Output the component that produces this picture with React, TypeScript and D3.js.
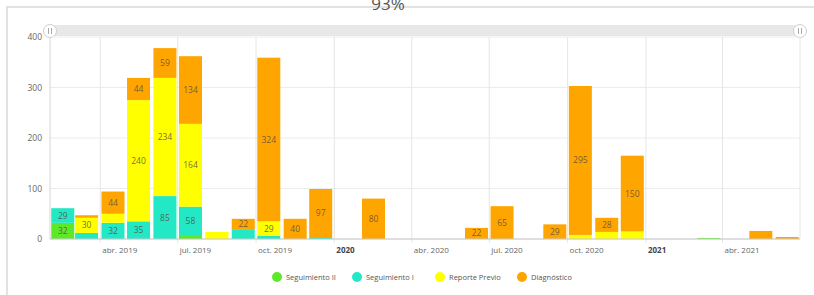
import React from "react"
import * as d3 from "d3"

// months from feb 2019 to jun 2021
const months = [
    "2019-02", "2019-03", "2019-04", "2019-05", "2019-06", "2019-07", "2019-08", "2019-09", "2019-10", "2019-11", "2019-12",
    "2020-01", "2020-02", "2020-03", "2020-04", "2020-05", "2020-06", "2020-07", "2020-08", "2020-09", "2020-10", "2020-11", "2020-12",
    "2021-01", "2021-02", "2021-03", "2021-04", "2021-05", "2021-06",
]
const seguimientoII = [32, 0, 0, 0, 0, 6, 0, 0, 0, 0, 0, 0, 0, 0, 0, 0, 0, 0, 0, 0, 0, 0, 0, 0, 0, 2, 0, 0, 0]
const seguimientoI = [29, 12, 32, 35, 85, 58, 0, 18, 6, 0, 2, 0, 0, 0, 0, 0, 0, 0, 0, 0, 0, 0, 0, 0, 0, 0, 0, 0, 0]
const reportePrevio = [0, 30, 18, 240, 234, 164, 14, 0, 29, 0, 0, 0, 0, 0, 0, 0, 0, 0, 0, 0, 8, 14, 15, 0, 0, 0, 0, 0, 0]
const diagnostico = [0, 5, 44, 44, 59, 134, 0, 22, 324, 40, 97, 0, 80, 0, 0, 0, 22, 65, 0, 29, 295, 28, 150, 0, 0, 0, 0, 16, 4]

const seriesNames = ["Seguimiento II", "Seguimiento I", "Reporte Previo", "Diagnóstico"]
const seriesColors = ["#5ee82a", "#22e8c6", "#ffff00", "#ffa500"]

const tickDates = ["2019-04", "2019-07", "2019-10", "2020-01", "2020-04", "2020-07", "2020-10", "2021-01", "2021-04"]
const tickLabels = ["abr. 2019", "jul. 2019", "oct. 2019", "2020", "abr. 2020", "jul. 2020", "oct. 2020", "2021", "abr. 2021"]
const yTicks = [0, 100, 200, 300, 400]

const W = 814
const H = 295
const margin = {top: 37, bottom: 56, left: 50, right: 14}
const font = "'Open Sans', sans-serif"

const parseMonth = d3.timeParse("%Y-%m")

const App = () => {
    const xScale = d3.scaleTime()
        .domain([new Date(2019, 1, 1), new Date(2021, 6, 1)])
        .range([margin.left, W - margin.right])
    const yScale = d3.scaleLinear()
        .domain([0, 400])
        .range([H - margin.bottom, margin.top])

    const rows = months.map((m, i) => ({
        month: m,
        s0: seguimientoII[i], s1: seguimientoI[i], s2: reportePrevio[i], s3: diagnostico[i],
    }))
    const stack = d3.stack<any>().keys(["s0", "s1", "s2", "s3"])(rows)

    const mid = (m: string) => {
        const d = parseMonth(m) as Date
        return xScale(d3.timeDay.offset(d, 15))
    }
    const barW = 23
    const y0 = yScale(0)

    const legendX = [277, 357, 440, 522]

    return (
        <svg width={W} height={H} style={{position: "absolute", left: 0, top: 0, fontFamily: font}}>
            <rect x={0} y={0} width={W} height={H} fill="#fff"/>
            {/* panel border */}
            <path d={`M7,${H}V7H${W}`} fill="none" stroke="#d9d9d9" strokeWidth={1.5}/>
            <text x={388} y={10} textAnchor="middle" fontSize={17} fill="#555">93%</text>

            {/* zoom slider */}
            <rect x={margin.left} y={25} width={W - margin.right - margin.left} height={11} fill="#e8e8e8"/>
            {[margin.left, W - margin.right].map((cx, i) => (
                <g key={i}>
                    <circle cx={cx} cy={31} r={6.5} fill="#fff" stroke="#cfcfcf"/>
                    <line x1={cx - 1.5} x2={cx - 1.5} y1={28} y2={34} stroke="#aaa"/>
                    <line x1={cx + 1.5} x2={cx + 1.5} y1={28} y2={34} stroke="#aaa"/>
                </g>
            ))}

            {/* grid */}
            {yTicks.map(t => (
                <g key={t}>
                    <line x1={margin.left} x2={W - margin.right} y1={yScale(t)} y2={yScale(t)} stroke="#ececec"/>
                    <text x={42} y={yScale(t) + 3} textAnchor="end" fontSize={8.5} fill="#666">{t}</text>
                </g>
            ))}
            {tickDates.map(t => {
                const x = xScale(parseMonth(t) as Date)
                return <line key={t} x1={x} x2={x} y1={margin.top} y2={y0 + 4} stroke="#e6e6e6"/>
            })}
            <line x1={W - margin.right} x2={W - margin.right} y1={margin.top} y2={y0} stroke="#e6e6e6"/>
            <line x1={margin.left} x2={margin.left} y1={margin.top} y2={y0} stroke="#d6d6d6"/>

            {/* bars */}
            {stack.map((s, si) => (
                <g key={si}>
                    {s.map((d, i) => {
                        const v = d[1] - d[0]
                        if (v <= 0) return null
                        const x = mid(months[i]) - barW / 2
                        const top = yScale(d[1])
                        const h = yScale(d[0]) - top
                        return (
                            <g key={i}>
                                <rect x={x} y={top} width={barW} height={h} fill={seriesColors[si]}/>
                                {v >= 20 && (
                                    <text x={x + barW / 2} y={top + h / 2 + 3} textAnchor="middle"
                                          fontSize={8.5} fill="#5a5040" fillOpacity={0.85}>{v}</text>
                                )}
                            </g>
                        )
                    })}
                </g>
            ))}

            {/* x axis */}
            <line x1={margin.left} x2={W - margin.right} y1={y0} y2={y0} stroke="#c8c8c8"/>
            {tickDates.map((t, i) => {
                const x = xScale(parseMonth(t) as Date)
                const bold = !tickLabels[i].includes(".")
                return (
                    <text key={t} x={x + 2} y={y0 + 14} fontSize={8} fill={bold ? "#444" : "#666"}
                          fontWeight={bold ? "bold" : "normal"}>{tickLabels[i]}</text>
                )
            })}

            {/* legend */}
            {seriesNames.map((n, i) => (
                <g key={n}>
                    <circle cx={legendX[i]} cy={277} r={5} fill={seriesColors[i]}/>
                    <text x={legendX[i] + 9} y={280} fontSize={7.5} fill="#555">{n}</text>
                </g>
            ))}
        </svg>
    )
}

export default App
